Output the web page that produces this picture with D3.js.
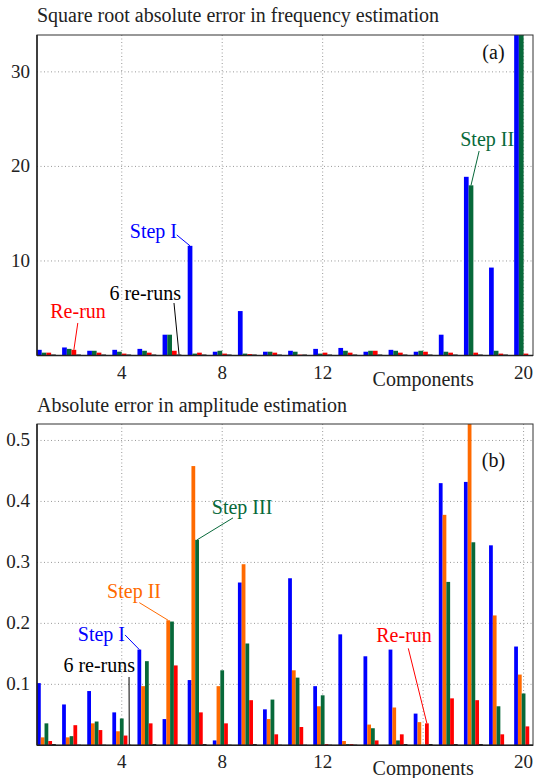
<!DOCTYPE html>
<html>
<head>
<meta charset="utf-8">
<script src="https://cdn.jsdelivr.net/npm/d3@7"></script>
<style>
  body { margin: 0; background: #fff; }
</style>
</head>
<body>
<svg id="chart" width="534" height="778" font-family="'Liberation Serif', 'DejaVu Serif', serif"></svg>
<script>
// components on the x axis
var components = [1,2,3,4,5,6,7,8,9,10,11,12,13,14,15,16,17,18,19,20];

// (a) square root absolute error in frequency
var freqStepI      = [0.6,0.85,0.5,0.6,0.7,2.2,11.6,0.4,4.7,0.4,0.5,0.7,0.8,0.4,0.6,0.4,2.2,18.9,9.3,40];
var freqStepII     = [0.3,0.7,0.5,0.4,0.5,2.2,0.2,0.5,0.2,0.4,0.4,0.2,0.5,0.5,0.5,0.5,0.4,18.0,0.5,40];
var freqRerun      = [0.3,0.6,0.3,0.2,0.3,0.5,0.3,0.2,0.15,0.3,0.1,0.3,0.3,0.5,0.3,0.4,0.3,0.3,0.2,0.2];
var freqSixReruns  = [0.1,0.1,0.1,0.1,0.1,0.1,0.1,0.1,0.1,0.1,0.1,0.1,0.1,0.1,0.1,0.1,0.1,0.1,0.1,0.05];

// (b) absolute error in amplitude
var ampStepI     = [0.102,0.067,0.089,0.054,0.157,0.043,0.107,0.008,0.267,0.059,0.274,0.097,0.182,0.146,0.157,0.052,0.430,0.432,0.328,0.162];
var ampStepII    = [0.013,0.013,0.036,0.023,0.097,0.205,0.458,0.097,0.297,0.043,0.123,0.064,0.007,0.034,0.062,0.038,0.378,0.6,0.213,0.116];
var ampStepIII   = [0.036,0.015,0.039,0.044,0.138,0.203,0.337,0.123,0.167,0.075,0.111,0.082,0.002,0.028,0.008,0.001,0.268,0.333,0.064,0.085];
var ampRerun     = [0.007,0.033,0.025,0.016,0.036,0.131,0.054,0.036,0.074,0.018,0.030,0.002,0.002,0.008,0.018,0.036,0.077,0.074,0.018,0.031];
var ampSixReruns = [0.002,0.001,0.001,0.001,0.002,0.001,0.002,0.001,0.002,0.001,0.001,0.001,0.001,0.0005,0.002,0.002,0.002,0.002,0.0005,0.001];

var xTicks = [4, 8, 12, 16, 20];
var freqTicks = [10, 20, 30];
var ampTicks = [0.1, 0.2, 0.3, 0.4, 0.5];

var BLUE = "#0000ff", GREEN = "#07693a", RED = "#ff0000", ORANGE = "#ff6a00", BLACK = "#000000";

const svg = d3.select("#chart");

function drawPanel(opt) {
    var g = svg.append("g").attr("transform", "translate(" + opt.left + "," + opt.top + ")");
    var w = opt.width, h = opt.height;

    var x = d3.scaleLinear().domain([0.625, 20.375]).range([0, w]);
    var y = d3.scaleLinear().domain(opt.yDomain).range([h, 0]);
    var groupW = x(1.75) - x(1);
    var sub = d3.scaleBand().domain(d3.range(opt.series.length)).range([-groupW / 2, groupW / 2]);

    // title
    svg.append("text")
        .attr("x", opt.left).attr("y", opt.titleY)
        .attr("font-size", 20).attr("fill", "#222")
        .text(opt.title);

    // grid
    g.append("g").selectAll("line").data(opt.yTicks).join("line")
        .attr("x1", 0).attr("x2", w)
        .attr("y1", d => y(d)).attr("y2", d => y(d))
        .attr("stroke", "#999").attr("stroke-dasharray", "1,2.5");
    g.append("g").selectAll("line").data(xTicks).join("line")
        .attr("x1", d => x(d)).attr("x2", d => x(d))
        .attr("y1", 0).attr("y2", h)
        .attr("stroke", "#999").attr("stroke-dasharray", "1,2.5");

    // bars
    var clipId = "clip" + opt.id;
    g.append("clipPath").attr("id", clipId)
        .append("rect").attr("width", w).attr("height", h);
    var bars = g.append("g").attr("clip-path", "url(#" + clipId + ")");
    opt.series.forEach(function(s, si) {
        bars.append("g").selectAll("rect")
            .data(s.values.map((v, i) => ({c: components[i], v: v})))
            .join("rect")
            .attr("x", d => x(d.c) + sub(si))
            .attr("width", sub.bandwidth())
            .attr("y", d => y(d.v))
            .attr("height", d => h - y(d.v))
            .attr("fill", s.color);
    });

    // frame
    g.append("rect").attr("width", w).attr("height", h)
        .attr("fill", "none").attr("stroke", "#333").attr("stroke-width", 1);
    g.append("line").attr("x1", 0).attr("x2", 0).attr("y1", 0).attr("y2", h)
        .attr("stroke", "#222").attr("stroke-width", 1.5);
    g.append("line").attr("x1", 0).attr("x2", w).attr("y1", h).attr("y2", h)
        .attr("stroke", "#222").attr("stroke-width", 1.5);

    // y tick labels
    g.append("g").selectAll("text").data(opt.yTicks).join("text")
        .attr("x", -7).attr("y", d => y(d) + 6)
        .attr("text-anchor", "end")
        .attr("font-size", 19).attr("fill", "#222")
        .text(opt.yFormat);

    // x tick labels (16 is taken by axis label)
    g.append("g").selectAll("text").data(xTicks.filter(d => d !== 16)).join("text")
        .attr("x", d => x(d)).attr("y", h + 23)
        .attr("text-anchor", "middle")
        .attr("font-size", 19).attr("fill", "#222")
        .text(d => d);
    g.append("text")
        .attr("x", x(16)).attr("y", h + 30)
        .attr("text-anchor", "middle")
        .attr("font-size", 20).attr("fill", "#222")
        .text("Components");

    // panel tag
    g.append("text")
        .attr("x", x(18.8)).attr("y", y(opt.tagY))
        .attr("text-anchor", "middle")
        .attr("font-size", 20).attr("fill", "#111")
        .text(opt.tag);

    // annotations
    opt.notes.forEach(function(n) {
        var s = opt.series[n.series];
        var bx = x(n.comp) + sub(n.series) + sub.bandwidth() / 2;
        var by = y(Math.min(s.values[n.comp - 1], opt.yDomain[1]));
        g.append("line")
            .attr("x1", x(n.lx)).attr("y1", y(n.ly))
            .attr("x2", bx).attr("y2", by)
            .attr("stroke", s.color).attr("stroke-width", 1);
        g.append("text")
            .attr("x", x(n.tx)).attr("y", y(n.ty))
            .attr("text-anchor", n.anchor)
            .attr("font-size", 20).attr("fill", s.color)
            .text(n.text);
    });
}

drawPanel({
    id: "a", left: 37, top: 35, width: 496, height: 320.5, titleY: 22,
    title: "Square root absolute error in frequency estimation",
    yDomain: [0, 33.9], yTicks: freqTicks, yFormat: d => d,
    tag: "(a)", tagY: 31.4,
    series: [
        {values: freqStepI, color: BLUE},
        {values: freqStepII, color: GREEN},
        {values: freqRerun, color: RED},
        {values: freqSixReruns, color: BLACK}
    ],
    notes: [
        {text: "Step I", series: 0, comp: 7, tx: 6.2, ty: 12.43, anchor: "end", lx: 6.19, ly: 12.75},
        {text: "6 re-runs", series: 3, comp: 6, tx: 6.36, ty: 5.87, anchor: "end", lx: 6.08, ly: 5.55},
        {text: "Re-run", series: 2, comp: 2, tx: 2.26, ty: 3.97, anchor: "middle", lx: 2.25, ly: 3.44},
        {text: "Step II", series: 1, comp: 18, tx: 18.55, ty: 22.16, anchor: "middle", lx: 18.23, ly: 21.63}
    ]
});

drawPanel({
    id: "b", left: 37, top: 424, width: 496, height: 321.3, titleY: 412,
    title: "Absolute error in amplitude estimation",
    yDomain: [0, 0.527], yTicks: ampTicks, yFormat: d => d3.format(".1f")(d),
    tag: "(b)", tagY: 0.457,
    series: [
        {values: ampStepI, color: BLUE},
        {values: ampStepII, color: ORANGE},
        {values: ampStepIII, color: GREEN},
        {values: ampRerun, color: RED},
        {values: ampSixReruns, color: BLACK}
    ],
    notes: [
        {text: "Step III", series: 2, comp: 7, tx: 8.79, ty: 0.379, anchor: "middle", lx: 8.43, ly: 0.373},
        {text: "Step II", series: 1, comp: 6, tx: 4.49, ty: 0.241, anchor: "middle", lx: 4.70, ly: 0.234},
        {text: "Step I", series: 0, comp: 5, tx: 4.13, ty: 0.171, anchor: "end", lx: 4.13, ly: 0.181},
        {text: "6 re-runs", series: 4, comp: 4, tx: 4.53, ty: 0.120, anchor: "end", lx: 4.29, ly: 0.112},
        {text: "Re-run", series: 3, comp: 16, tx: 15.24, ty: 0.169, anchor: "middle", lx: 15.41, ly: 0.159}
    ]
});
</script>
</body>
</html>
